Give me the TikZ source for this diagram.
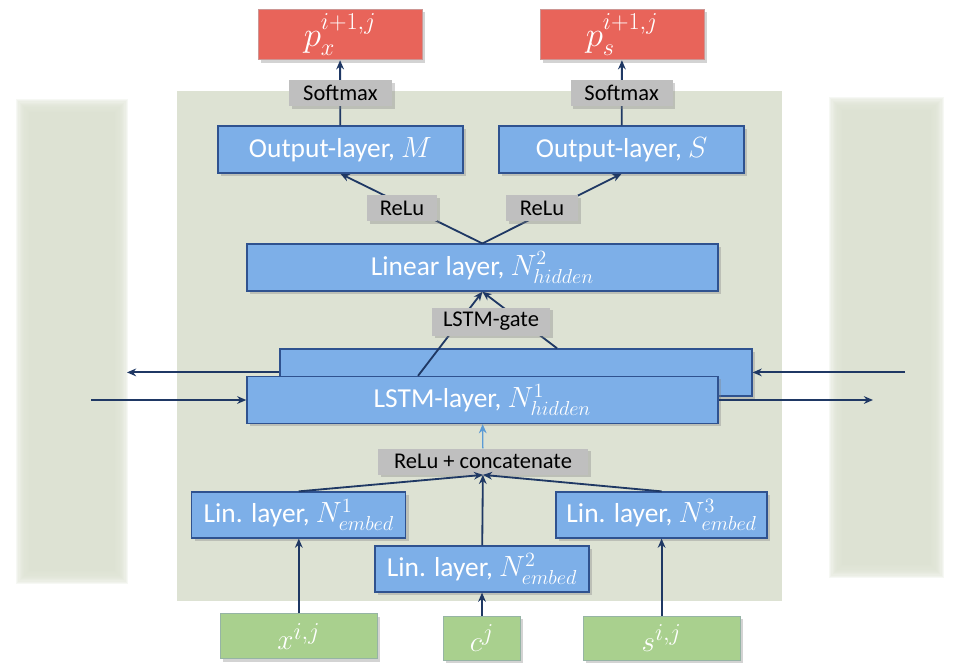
\documentclass[tikz,border=0pt]{standalone}
\usepackage{fontspec}
\setmainfont{Carlito}
\usepackage{amsmath}
\usetikzlibrary{arrows.meta}
\usetikzlibrary{shadows}
\renewcommand{\defaultscriptratio}{.75}
\newcommand{\upsup}[1]{\raisebox{3pt}{$\scriptstyle #1$}}

\definecolor{panelgreen}{RGB}{221,226,211}
\definecolor{layerblue}{RGB}{125,175,232}
\definecolor{layerline}{RGB}{47,82,143}
\definecolor{lblgray}{RGB}{191,191,191}
\definecolor{outred}{RGB}{232,100,90}
\definecolor{outline}{RGB}{205,150,148}
\definecolor{ingreen}{RGB}{169,208,142}
\definecolor{inborder}{RGB}{150,180,165}
\definecolor{arrowblue}{RGB}{31,56,100}
\definecolor{feedblue}{RGB}{91,155,213}

\begin{document}
\begin{tikzpicture}[
    shade/.style={drop shadow={opacity=0.35, shadow xshift=0.07cm, shadow yshift=-0.07cm}},
    box/.style={draw=layerline, fill=layerblue, text=white, line width=0.9pt, minimum height=1.175cm, font=\fontsize{19.5}{23}\selectfont, shade},
    lbl/.style={fill=lblgray, text=black, minimum height=0.65cm, font=\fontsize{16}{19}\selectfont, shade},
    outbox/.style={draw=outline, fill=outred, text=white, line width=0.6pt, minimum width=4.1cm, minimum height=1.125cm, font=\fontsize{23}{27}\selectfont, shade},
    inbox/.style={draw=inborder, fill=ingreen, text=white, line width=0.6pt, minimum height=1.1cm, font=\fontsize{22}{26}\selectfont, shade},
    arr/.style={draw=arrowblue, line width=1.3pt, -{Stealth[length=6.5pt,width=5.5pt]}}
  ]
    \useasboundingbox (0,0) rectangle (23.9,-16.775);

    % panels
    \foreach \d in {0.15,0.12,...,-0.16} {
      \fill[panelgreen, opacity=0.25] (0.55-\d,-2.625+\d) rectangle (3.05+\d,-14.45-\d);
      \fill[panelgreen, opacity=0.25] (20.875-\d,-2.575+\d) rectangle (23.45+\d,-14.3-\d);
    }
    \fill[panelgreen] (0.73,-2.805) rectangle (2.87,-14.27);
    \fill[panelgreen] (21.055,-2.755) rectangle (23.27,-14.12);
    \fill[panelgreen] (4.425,-2.275) rectangle (19.55,-15.025);

    % outputs
    \node [outbox] (px) at (8.5,-0.86) {$p_x^{\upsup{i+1,j}}$};
    \node [outbox] (ps) at (15.55,-0.86) {$p_s^{\upsup{i+1,j}}$};
    \node [box, minimum width=6.125cm] (outm) at (8.51,-3.74) {Output-layer, $M$};
    \node [box, minimum width=6.125cm] (outs) at (15.54,-3.74) {Output-layer, $S$};
    \node [box, minimum width=11.775cm] (lin) at (12.06,-6.69) {Linear layer, $N^2_{hidden}$};

    % recurrent layers
    \node [box, minimum width=11.8cm] (back) at (12.9,-9.31) {};
    \node [box, minimum width=11.775cm] (lstm) at (12.06,-10.0) {LSTM-layer, $N^1_{hidden}$};

    % embeddings and inputs
    \node [box, minimum width=5.35cm, minimum height=1.15cm] (n1) at (7.47,-12.875) {Lin. layer, $N^1_{embed}$};
    \node [box, minimum width=5.35cm, minimum height=1.15cm] (n2) at (12.05,-14.225) {Lin. layer, $N^2_{embed}$};
    \node [box, minimum width=5.275cm, minimum height=1.15cm] (n3) at (16.54,-12.875) {Lin. layer, $N^3_{embed}$};
    \node [inbox, minimum width=3.925cm, minimum height=1.125cm] (xin) at (7.47,-15.91) {$x^{i,j}$};
    \node [inbox, minimum width=1.925cm] (cin) at (12.05,-15.95) {$c^{j}$};
    \node [inbox, minimum width=3.925cm] (sin) at (16.54,-15.95) {$s^{i,j}$};

    \coordinate (leftout) at (3.175,-9.31);
    \coordinate (leftin) at (2.275,-10.0);
    \coordinate (rightin) at (22.625,-9.31);
    \coordinate (rightout) at (21.825,-10.0);

    \draw [arr] (outm) -- (px);
    \draw [arr] (outs) -- (ps);
    \draw [arr] (lin.north) -- (outm.south);
    \draw [arr] (lin.north) -- (outs.south);
    \draw [arr] ([xshift=-1.61cm]lstm.north) -- (lin.south);
    \draw [arr] ([xshift=1.025cm]back.north) -- (lin.south);
    \draw [arr] (back.west) -- (leftout);
    \draw [arr] (leftin) -- (lstm.west);
    \draw [arr] (rightin) -- (back.east);
    \draw [arr] (lstm.east) -- (rightout);
    \draw [arr] (xin) -- (n1);
    \draw [arr] (cin) -- (n2);
    \draw [arr] (sin) -- (n3);

    % gates
    \node [lbl, minimum width=2.575cm] (smx) at (8.51,-2.325) {Softmax};
    \node [lbl, minimum width=2.55cm] (sms) at (15.54,-2.325) {Softmax};
    \node [lbl, minimum width=1.75cm] (relum) at (10.05,-5.2) {ReLu};
    \node [lbl, minimum width=1.8cm] (relus) at (13.55,-5.2) {ReLu};
    \node [lbl, minimum width=2.95cm] (gate) at (12.275,-8.04) {LSTM-gate};
    \node [lbl, minimum width=5.25cm] (concat) at (12.075,-11.54) {ReLu + concatenate};

    \draw [arr, draw=feedblue, line width=0.9pt] (concat) -- (lstm);
    \draw [arr] (n1.north) -- (concat.south);
    \draw [arr] (n2) -- (concat);
    \draw [arr] (n3.north) -- (concat.south);
  \end{tikzpicture}
\end{document}
